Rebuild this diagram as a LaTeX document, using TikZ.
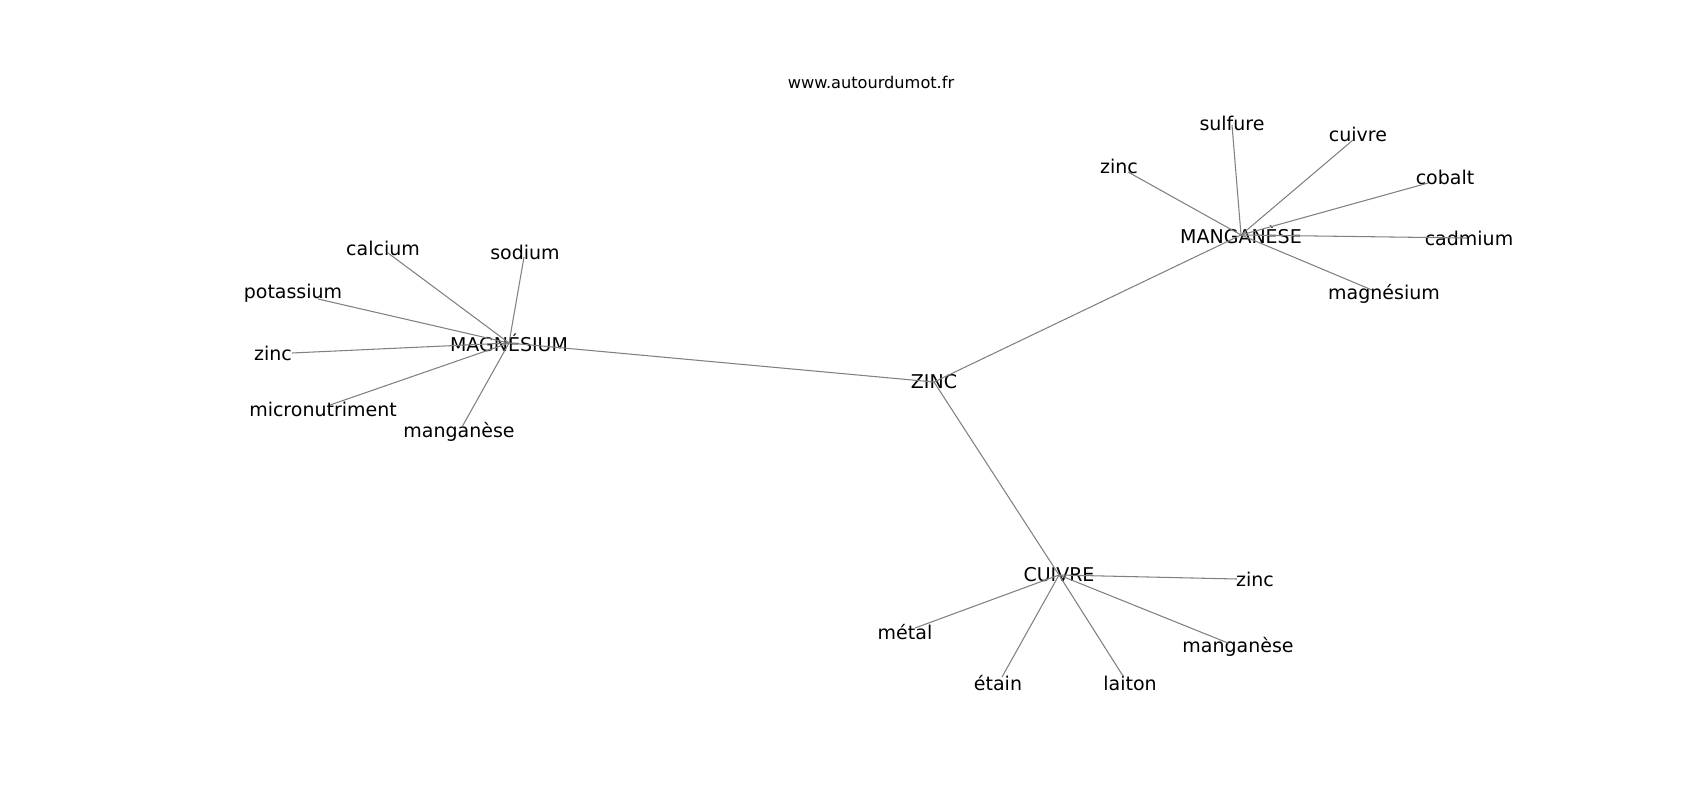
\documentclass[tikz,border=0pt]{standalone}
\usepackage{fontspec}
\setmainfont{DejaVu Sans}
\usetikzlibrary{positioning}
\tikzset{
  mot/.style={inner sep=0pt,font=\fontsize{5.4}{6}\selectfont},
  lien/.style={draw=gray,line width=0.3pt},
}
\begin{document}
\begin{tikzpicture}[x=0.01cm,y=-0.01cm]
\useasboundingbox (0,0) rectangle (1700,800);
\node[inner sep=0pt,font=\fontsize{4.6}{5}\selectfont] (titre) at (871,82) {www.autourdumot.fr};
% centres
\node[mot] (zinc) at (934,382) {ZINC};
\node[mot] (magn) at (509,343) {MAGNÉSIUM};
\node[mot] (mang) at (1241,235) {MANGANÈSE};
\node[mot] (cuiv) at (1059,575) {CUIVRE};
% autour de MANGANESE
\node[mot] (sulfure) at (1232,123) {sulfure};
\node[mot] (cuivreA) at (1358,134) {cuivre};
\node[mot] (zincA) at (1119,166) {zinc};
\node[mot] (cobalt) at (1445,177) {cobalt};
\node[mot] (cadmium) at (1469,238) {cadmium};
\node[mot] (magnA) at (1384,294) {magnésium};
\coordinate (sulfure-e) at (1232,125);
\coordinate (cuivreA-e) at (1353,140);
\coordinate (zincA-e) at (1128,172);
\coordinate (cobalt-e) at (1428,183);
\coordinate (cadmium-e) at (1467,238);
\coordinate (magnA-e) at (1372,290);
% autour de MAGNESIUM
\node[mot] (calcium) at (383,248) {calcium};
\node[mot] (sodium) at (525,252) {sodium};
\node[mot] (potassium) at (293,293) {potassium};
\node[mot] (zincB) at (273,353) {zinc};
\node[mot] (micro) at (323,409) {micronutriment};
\node[mot] (mangB) at (459,432) {manganèse};
\coordinate (calcium-e) at (388,253);
\coordinate (sodium-e) at (524,257);
\coordinate (potassium-e) at (318,299);
\coordinate (zincB-e) at (292,353);
\coordinate (micro-e) at (330,405);
\coordinate (mangB-e) at (462,427);
% autour de CUIVRE
\node[mot] (zincC) at (1255,579) {zinc};
\node[mot] (metal) at (905,632) {métal};
\node[mot] (mangC) at (1238,647) {manganèse};
\node[mot] (etain) at (998,683) {étain};
\node[mot] (laiton) at (1130,683) {laiton};
\coordinate (zincC-e) at (1237,579);
\coordinate (metal-e) at (915,628);
\coordinate (mangC-e) at (1228,643);
\coordinate (etain-e) at (1002,677);
\coordinate (laiton-e) at (1123,676);
% liens
\draw[lien] (zinc.center) -- (magn.center);
\draw[lien] (zinc.center) -- (mang.center);
\draw[lien] (zinc.center) -- (cuiv.center);
\draw[lien] (mang.center) -- (sulfure-e);
\draw[lien] (mang.center) -- (cuivreA-e);
\draw[lien] (mang.center) -- (zincA-e);
\draw[lien] (mang.center) -- (cobalt-e);
\draw[lien] (mang.center) -- (cadmium-e);
\draw[lien] (mang.center) -- (magnA-e);
\draw[lien] (magn.center) -- (calcium-e);
\draw[lien] (magn.center) -- (sodium-e);
\draw[lien] (magn.center) -- (potassium-e);
\draw[lien] (magn.center) -- (zincB-e);
\draw[lien] (magn.center) -- (micro-e);
\draw[lien] (magn.center) -- (mangB-e);
\draw[lien] (cuiv.center) -- (zincC-e);
\draw[lien] (cuiv.center) -- (metal-e);
\draw[lien] (cuiv.center) -- (mangC-e);
\draw[lien] (cuiv.center) -- (etain-e);
\draw[lien] (cuiv.center) -- (laiton-e);
\end{tikzpicture}
\end{document}
